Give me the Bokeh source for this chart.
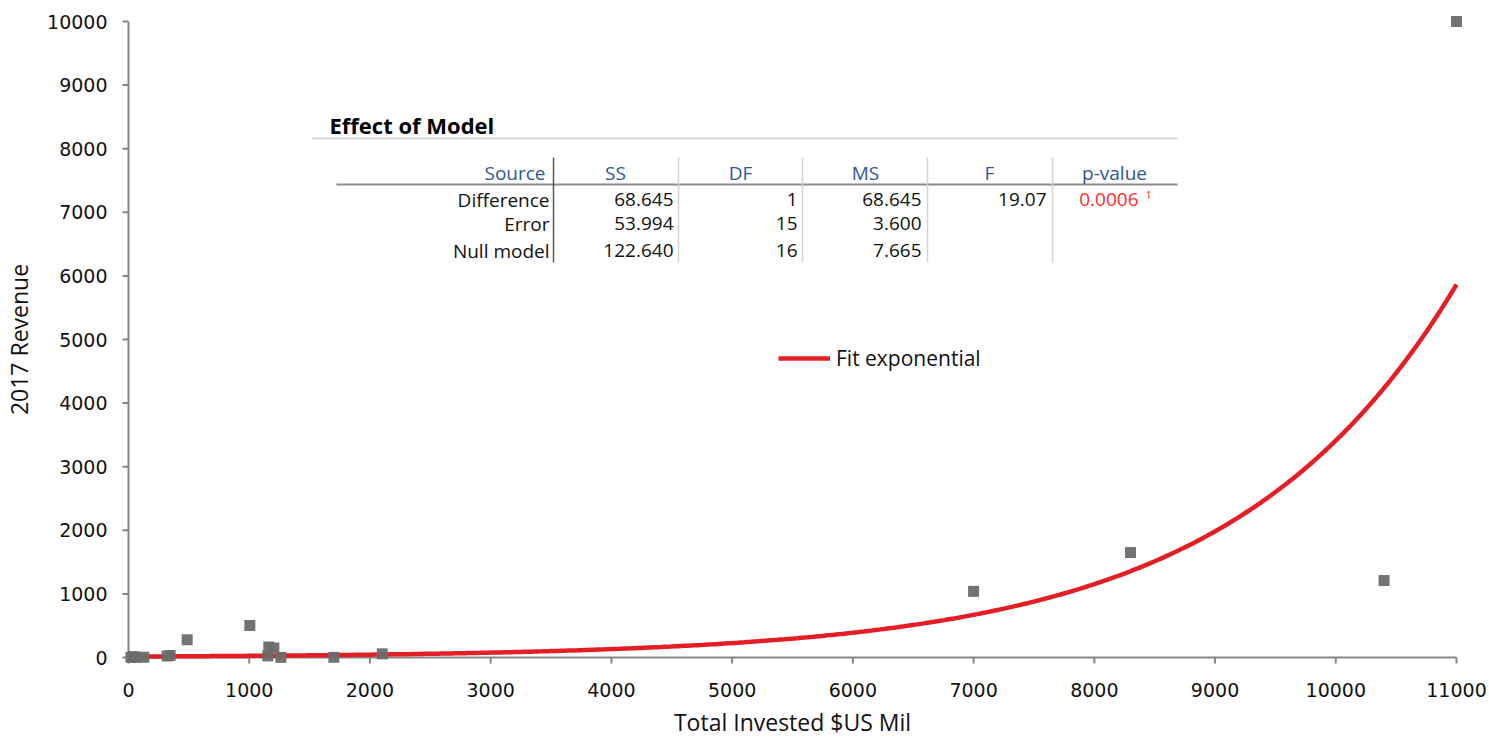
import numpy as np
from bokeh.plotting import figure
from bokeh.models import Range1d, Legend, LegendItem
from bokeh.core.properties import value
from bokeh.embed import file_html
from bokeh.resources import INLINE

# --- data -------------------------------------------------------------
invested = [20, 44, 60, 127, 320, 345, 486, 1005, 1154, 1162, 1204, 1262,
            1701, 2102, 7000, 8300, 10400, 11000]
revenue = [5, 10, 3, 5, 25, 30, 280, 503, 25, 165, 150, 2,
           3, 58, 1040, 1650, 1210, 10000]

# exponential fit  y = A * exp(B * x)
FIT_A = 15.1
FIT_B = 0.000542

x_ticks = list(range(0, 11001, 1000))
y_ticks = list(range(0, 10001, 1000))
x_tick_labels = [str(t) for t in x_ticks]
y_tick_labels = [str(t) for t in y_ticks]
x_title = "Total Invested $US Mil"
y_title = "2017 Revenue"
legend_label = "Fit exponential"

# ANOVA table contents
table_title = "Effect of Model"
table_headers = ["Source", "SS", "DF", "MS", "F", "p-value"]
row_labels = ["Difference", "Error", "Null model"]
col_ss = ["68.645", "53.994", "122.640"]
col_df = ["1", "15", "16"]
col_ms = ["68.645", "3.600", "7.665"]
col_f = ["19.07", "", ""]
col_p = ["0.0006", "", ""]
p_note = "1"

# --- canvas / scales ----------------------------------------------------
W, H = 1489, 738
X0, X1 = 0, 11000
Y0, Y1 = 0, 10000
# pixel positions of the axis origin and far ends
OX, EX = 128, 1456
OY, EY = 657, 21
sx = (EX - OX) / (X1 - X0)
sy = (OY - EY) / (Y1 - Y0)

xr = Range1d(X0 - OX / sx, X0 + (W - OX) / sx)
yr = Range1d(Y0 - (H - OY) / sy, Y0 + OY / sy)

p = figure(width=W, height=H, x_range=xr, y_range=yr,
           x_axis_location=None, y_axis_location=None,
           output_backend="svg", toolbar_location=None,
           min_border_left=0, min_border_right=0,
           min_border_top=0, min_border_bottom=0)
p.outline_line_color = None
p.grid.visible = False
p.background_fill_color = "white"
p.border_fill_color = "white"


def px_x(px):
    return X0 + (px - OX) / sx


def px_y(py):
    return Y0 + (OY - py) / sy


# --- axes -----------------------------------------------------------------
AXIS_COLOR = "#868686"
TICK_LEN = 6
TEXT_DARK = "#111111"
p.segment(x0=[X0, X0], y0=[Y0, Y0], x1=[X1, X0], y1=[Y0, Y1],
          line_color=AXIS_COLOR, line_width=2)
p.segment(x0=x_ticks, y0=[Y0] * len(x_ticks), x1=x_ticks,
          y1=[Y0 - TICK_LEN / sy] * len(x_ticks),
          line_color=AXIS_COLOR, line_width=2)
p.segment(x0=[X0] * len(y_ticks), y0=y_ticks,
          x1=[X0 - TICK_LEN / sx] * len(y_ticks), y1=y_ticks,
          line_color=AXIS_COLOR, line_width=2)

p.text(x=x_ticks, y=[Y0] * len(x_ticks), text=x_tick_labels, y_offset=32,
       text_font=value("DejaVu Sans"), text_font_size="19px",
       text_color=TEXT_DARK, text_align="center", text_baseline="middle")
p.text(x=[X0] * len(y_ticks), y=y_ticks, text=y_tick_labels, x_offset=-21,
       text_font=value("DejaVu Sans"), text_font_size="19px",
       text_color=TEXT_DARK, text_align="right", text_baseline="middle")

p.text(x=[px_x(792)], y=[px_y(721)], text=[x_title],
       text_font=value("Open Sans"), text_font_size="23px",
       text_color=TEXT_DARK, text_align="center", text_baseline="middle")
p.text(x=[px_x(18)], y=[px_y(339)], text=[y_title], angle=np.pi / 2,
       text_font=value("Open Sans"), text_font_size="23px",
       text_color=TEXT_DARK, text_align="center", text_baseline="middle")

# --- marks --------------------------------------------------------------
fx = np.linspace(X0, X1, 400)
fy = FIT_A * np.exp(FIT_B * fx)
curve = p.line(fx, fy, line_color="#e41e25", line_width=4.5)

p.scatter(invested, revenue, marker="square", size=11,
          fill_color="#6b6b6b", line_color=None, alpha=0.95)

legend = Legend(items=[LegendItem(label=legend_label, renderers=[curve])],
                location=(778, H - 358 - 15),
                glyph_width=52, glyph_height=30, label_height=30,
                label_standoff=6, padding=0, spacing=0, margin=0,
                border_line_color=None, background_fill_alpha=0,
                label_text_font="Open Sans", label_text_font_size="21px",
                label_text_color=TEXT_DARK)
p.add_layout(legend)

# --- ANOVA table --------------------------------------------------------
FONT = value("Open Sans")
BODY = "19px"
HEAD_BLUE = "#2f5597"
P_RED = "#ff2a2a"

p.text(x=[px_x(329)], y=[px_y(124)], text=[table_title], text_font=FONT,
       text_font_size="22px", text_font_style="bold", text_color="#000000",
       text_baseline="middle", text_align="left")
p.segment(x0=[px_x(312)], y0=[px_y(138)], x1=[px_x(1177)], y1=[px_y(138)],
          line_color="#d9d9d9", line_width=2)
p.segment(x0=[px_x(336)], y0=[px_y(184)], x1=[px_x(1177)], y1=[px_y(184)],
          line_color="#8a8a8a", line_width=2)

sep_x = [553, 678, 802, 927, 1052]
sep_col = ["#5a5a5a", "#d4d4d4", "#d4d4d4", "#d4d4d4", "#d4d4d4"]
p.segment(x0=[px_x(v) for v in sep_x], y0=[px_y(157)] * 5,
          x1=[px_x(v) for v in sep_x], y1=[px_y(262)] * 5,
          line_color=sep_col, line_width=1.5)

# header row
p.text(x=[px_x(545)], y=[px_y(172)], text=[table_headers[0]], text_font=FONT,
       text_font_size=BODY, text_color=HEAD_BLUE, text_baseline="middle",
       text_align="right")
head_cx = [615, 740, 865, 989, 1114]
p.text(x=[px_x(v) for v in head_cx], y=[px_y(172)] * 5, text=table_headers[1:],
       text_font=FONT, text_font_size=BODY, text_color=HEAD_BLUE,
       text_baseline="middle", text_align="center")

row_y = [px_y(v) for v in (199, 223, 250)]
p.text(x=[px_x(549)] * 3, y=row_y, text=row_labels, text_font=FONT,
       text_font_size=BODY, text_color=TEXT_DARK, text_baseline="middle",
       text_align="right")
for col, right in ((col_ss, 673), (col_df, 797), (col_ms, 921), (col_f, 1046)):
    p.text(x=[px_x(right)] * 3, y=row_y, text=col, text_font=FONT,
           text_font_size=BODY, text_color=TEXT_DARK,
           text_baseline="middle", text_align="right")
p.text(x=[px_x(1138)] * 3, y=row_y, text=col_p, text_font=FONT,
       text_font_size=BODY, text_color=P_RED, text_baseline="middle",
       text_align="right")
p.text(x=[px_x(1145)], y=[px_y(194)], text=[p_note], text_font=FONT,
       text_font_size="11px", text_color=P_RED, text_baseline="middle",
       text_align="left")

open("out.html", "w").write(file_html(p, INLINE))
